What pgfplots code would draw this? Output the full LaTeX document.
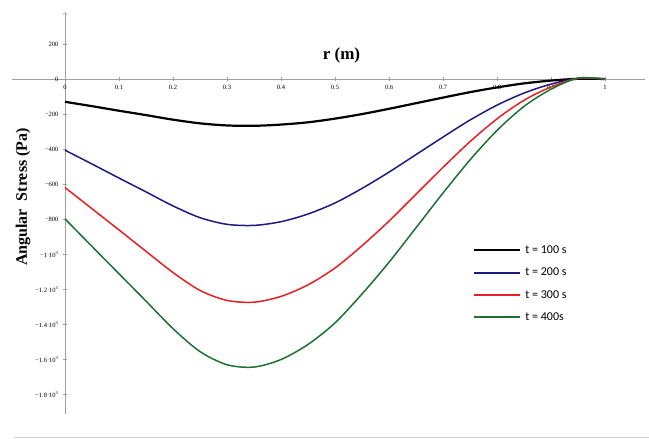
\documentclass[border=0pt]{standalone}
\usepackage{fontspec}
\setmainfont{Liberation Serif}
\newfontfamily\legfont{Carlito}
\usepackage{pgfplots}
\pgfplotsset{compat=1.18}

\definecolor{c100}{RGB}{0,0,0}
\definecolor{c200}{RGB}{28,28,128}
\definecolor{c300}{RGB}{232,32,36}
\definecolor{c400}{RGB}{30,112,52}

\begin{document}
\begin{tikzpicture}
\useasboundingbox (0pt,0pt) rectangle (649pt,439pt);
\draw[gray!35, line width=0.8pt] (14pt,2pt) -- (649pt,2pt);
\begin{axis}[
  at={(65pt,360pt)}, anchor=origin,
  scale only axis, width=633pt, height=402pt,
  xmin=-0.098, xmax=1.074, ymin=-1913, ymax=380,
  axis lines=middle,
  axis line style={gray!75, line width=0.6pt},
  y axis line style={->},
  x axis line style={-},
  clip=false,
  xtick={0,0.1,0.2,0.3,0.4,0.5,0.6,0.7,0.8,0.9,1},
  xticklabels={0,0.1,0.2,0.3,0.4,0.5,0.6,0.7,0.8,0.9,1},
  ytick={200,0,-200,-400,-600,-800,-1000,-1200,-1400,-1600,-1800},
  yticklabels={200,0,−200,−400,−600,−800,
    −1·10\textsuperscript{3},−1.2·10\textsuperscript{3},−1.4·10\textsuperscript{3},
    −1.6·10\textsuperscript{3},−1.8·10\textsuperscript{3}},
  hide obscured x ticks=false, hide obscured y ticks=false,
  tick style={gray!75, line width=0.5pt},
  major tick length=4pt, tick align=center,
  tick label style={font=\fontsize{6.5}{7}\selectfont},
  xticklabel style={anchor=north, yshift=-1pt},
  yticklabel style={anchor=east, xshift=-1pt},
  legend style={at={(0.7235,0.43)}, anchor=north west, draw=none, fill=none,
    font=\legfont\fontsize{12}{13}\selectfont, row sep=9pt,
    cells={anchor=west}, nodes={inner xsep=4pt}},
  legend image code/.code={\draw[#1, line width=2.2pt] (0pt,0pt) -- (23pt,0pt) -- (46pt,0pt);},
]
% t = 100 s
\addplot[c100, line width=2.2pt, smooth] coordinates {
 (0,-130) (0.05,-155) (0.1,-181) (0.15,-206) (0.2,-232) (0.25,-253)
 (0.3,-265) (0.35,-267) (0.4,-260) (0.45,-247) (0.5,-226)
 (0.55,-200) (0.6,-170) (0.65,-138) (0.7,-106) (0.75,-75) (0.8,-48)
 (0.85,-25) (0.9,-9) (0.95,1) (1,0)};
\addlegendentry{t = 100 s}
% t = 200 s
\addplot[c200, line width=1.5pt, smooth] coordinates {
 (0,-406) (0.05,-485) (0.1,-565) (0.15,-644) (0.2,-724) (0.25,-791)
 (0.3,-829) (0.35,-835) (0.4,-814) (0.45,-770) (0.5,-707)
 (0.55,-624) (0.6,-531) (0.65,-431) (0.7,-331) (0.75,-234) (0.8,-149)
 (0.85,-80) (0.9,-29) (0.95,3) (1,0)};
\addlegendentry{t = 200 s}
% t = 300 s
\addplot[c300, line width=1.5pt, smooth] coordinates {
 (0,-619) (0.05,-740) (0.1,-861) (0.15,-983) (0.2,-1104) (0.25,-1206)
 (0.3,-1263) (0.35,-1273) (0.4,-1240) (0.45,-1174) (0.5,-1078)
 (0.55,-951) (0.6,-810) (0.65,-657) (0.7,-504) (0.75,-357) (0.8,-227)
 (0.85,-121) (0.9,-45) (0.95,4) (1,0)};
\addlegendentry{t = 300 s}
% t = 400 s
\addplot[c400, line width=1.5pt, smooth] coordinates {
 (0,-798) (0.05,-955) (0.1,-1111) (0.15,-1267) (0.2,-1424) (0.25,-1555)
 (0.3,-1630) (0.35,-1643) (0.4,-1600) (0.45,-1514) (0.5,-1391)
 (0.55,-1226) (0.6,-1045) (0.65,-848) (0.7,-650) (0.75,-461) (0.8,-293)
 (0.85,-156) (0.9,-58) (0.95,5) (1,0)};
\addlegendentry{t = 400s}
\node[font=\bfseries\fontsize{17}{18}\selectfont] at (axis cs:0.512,135) {r (m)};
\end{axis}
\node[rotate=90, font=\bfseries\fontsize{16}{17}\selectfont] at (23pt,242pt) {Angular\ \ Stress (Pa)};
\end{tikzpicture}
\end{document}
